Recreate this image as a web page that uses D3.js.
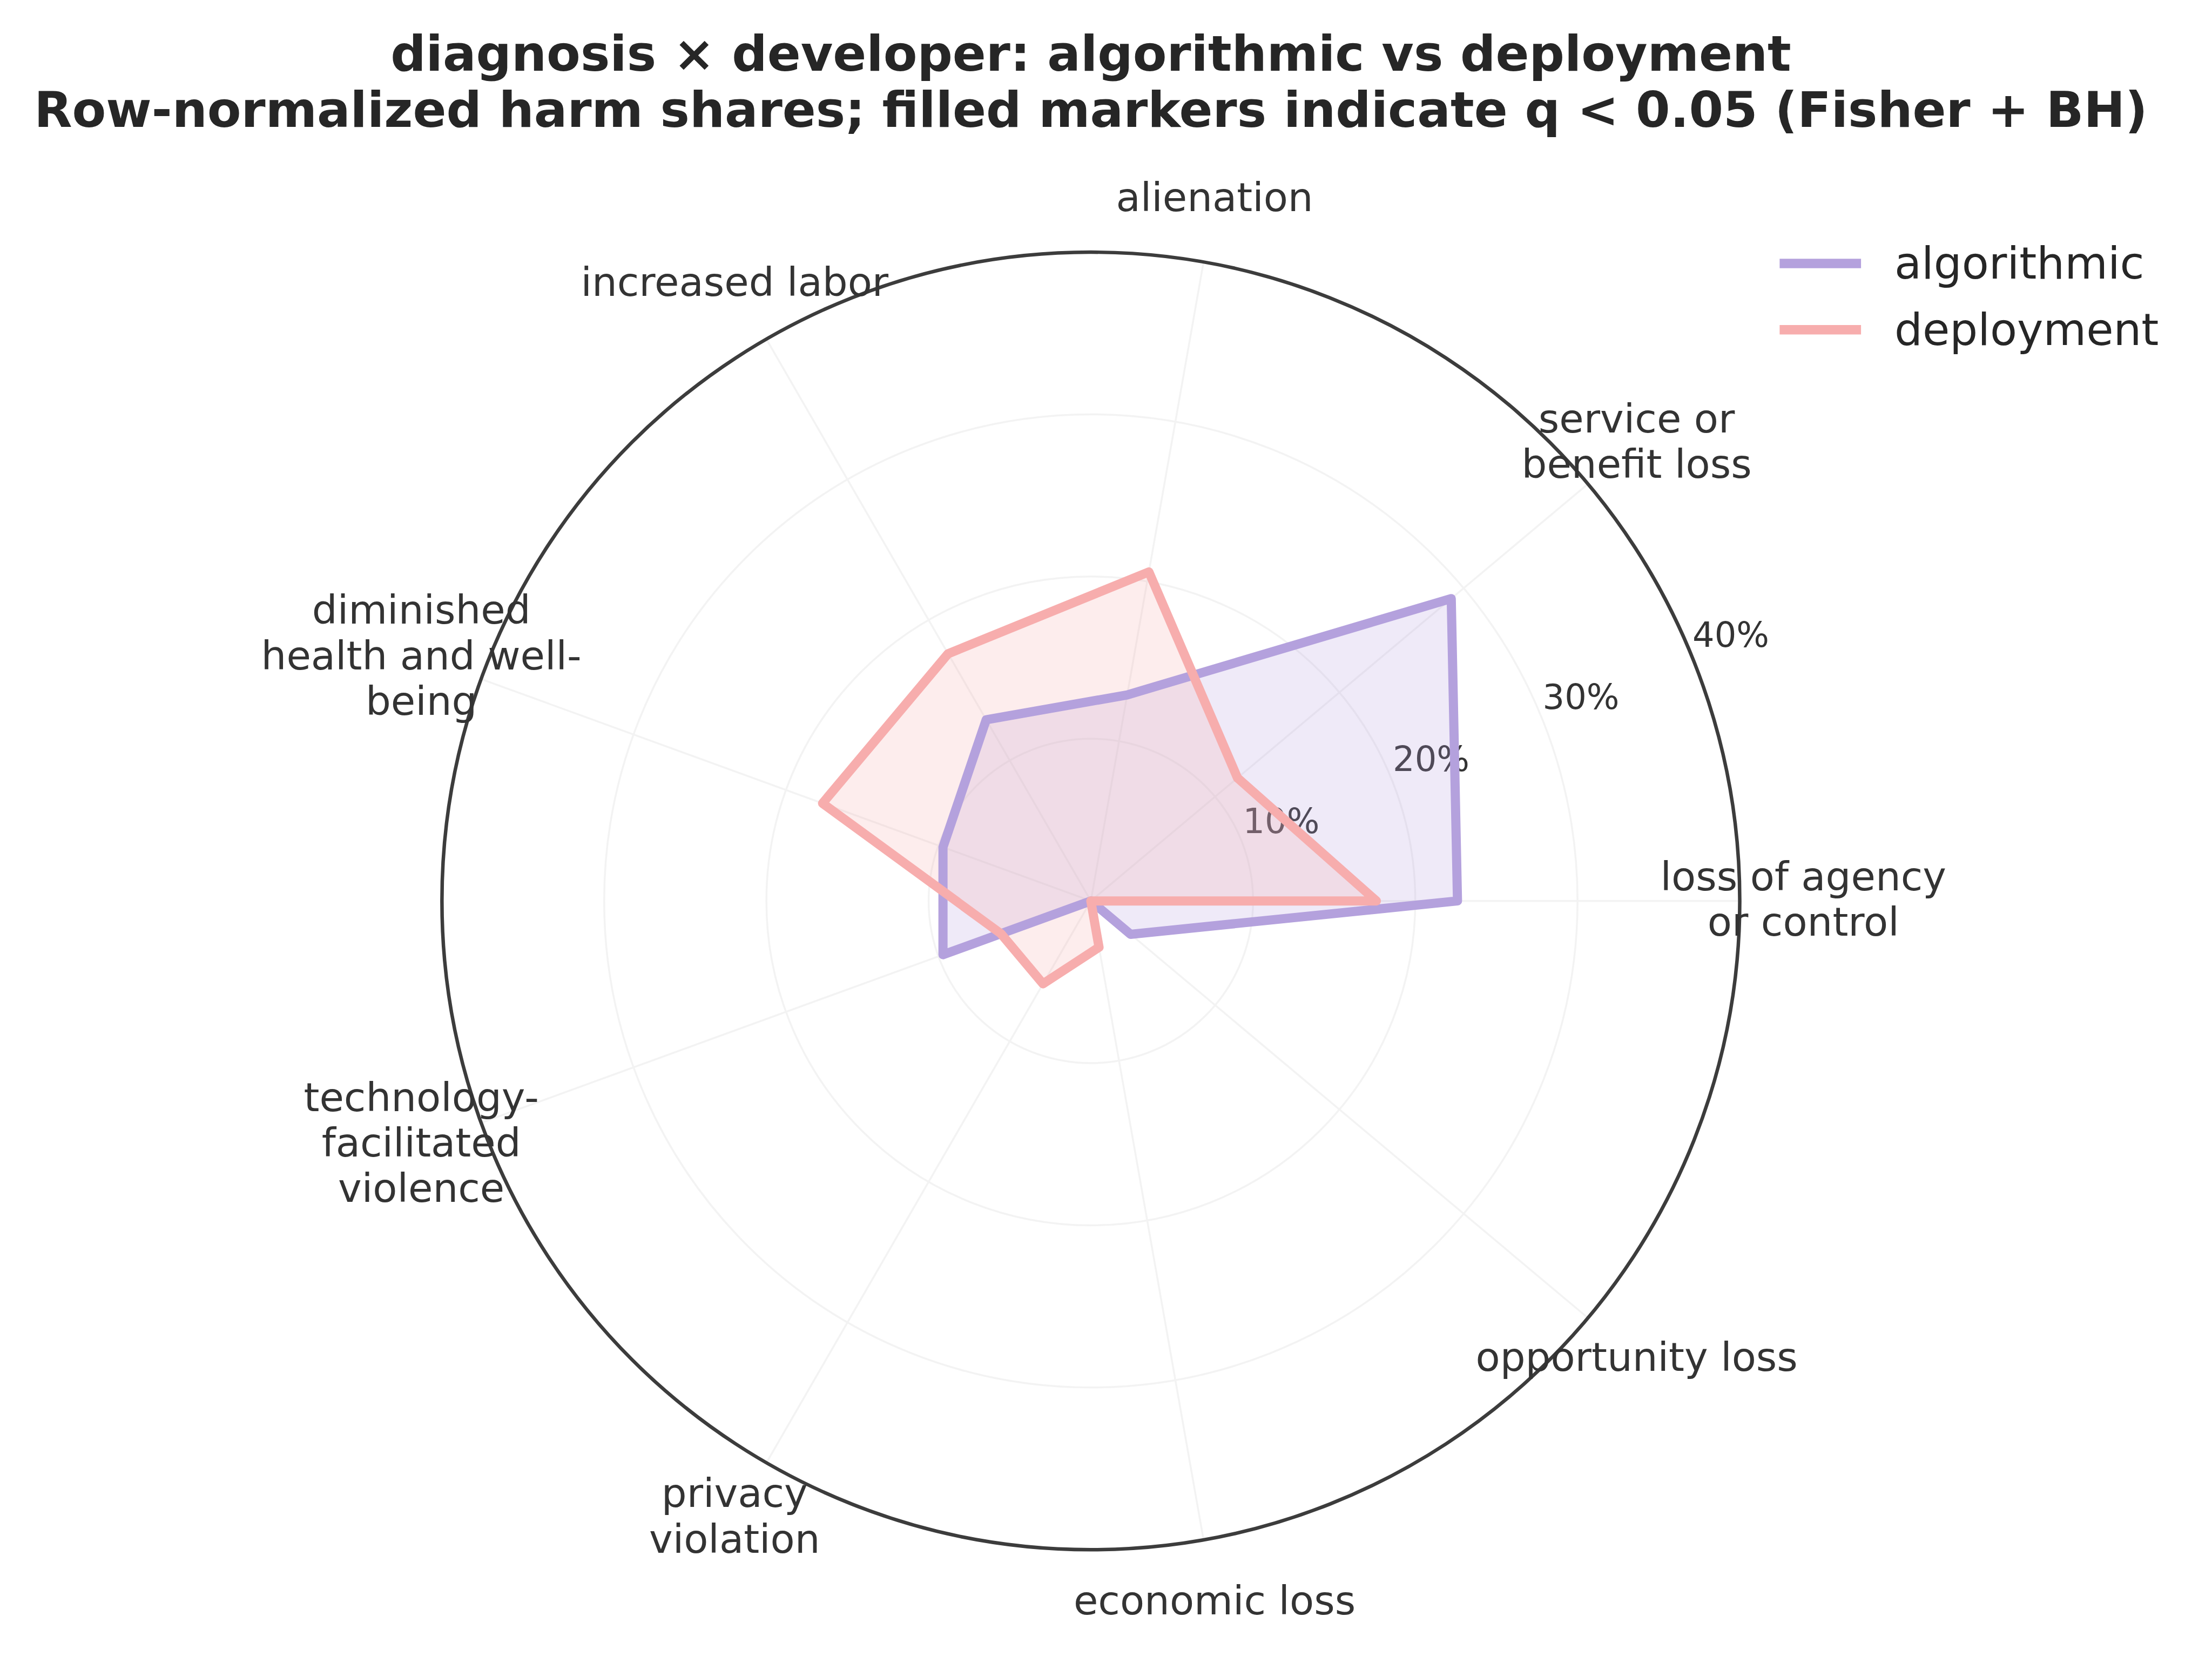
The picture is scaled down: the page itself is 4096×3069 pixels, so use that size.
<!DOCTYPE html>
<html>
<head>
<meta charset="utf-8">
<script src="https://cdn.jsdelivr.net/npm/d3@7"></script>
<style>
  html, body { margin: 0; padding: 0; background: #ffffff; }
  svg { display: block; }
  text { font-family: "DejaVu Sans", sans-serif; }
</style>
</head>
<body>
<svg id="chart" width="4096" height="3069"></svg>
<script>
// ---- data ----
const categories = [
  "loss of agency\nor control",
  "service or\nbenefit loss",
  "alienation",
  "increased labor",
  "diminished\nhealth and well-\nbeing",
  "technology-\nfacilitated\nviolence",
  "privacy\nviolation",
  "economic loss",
  "opportunity loss"
];
const seriesNames = ["algorithmic", "deployment"];
const algorithmic = [22.6, 29.0, 12.9, 12.9, 9.7, 9.7, 0.0, 0.0, 3.2];
const deployment  = [17.6, 11.8, 20.6, 17.6, 17.6, 5.9, 5.9, 2.9, 0.0];
const radialTicks = [10, 20, 30, 40];
const radialTickLabels = ["10%", "20%", "30%", "40%"];
const titleLines = [
  "diagnosis \u00d7 developer: algorithmic vs deployment",
  "Row-normalized harm shares; filled markers indicate q < 0.05 (Fisher + BH)"
];
const colors = ["#b4a1dd", "#f7adad"];

// ---- layout (reference pixel space, scaled to window) ----
const S = 0.998;
const cx = 2024, cy = 1672, R = 1204;

const svg = d3.select("#chart");
const root = svg.append("g").attr("transform", `scale(${S})`);

const r = d3.scaleLinear().domain([0, 40]).range([0, R]);
const theta = d3.scaleLinear().domain([0, categories.length]).range([0, 2 * Math.PI]);
// matplotlib-style angle (CCW from east) -> d3 radial angle (CW from north)
const toD3 = t => Math.PI / 2 - t;

const g = root.append("g").attr("transform", `translate(${cx},${cy})`);

// grid circles
g.append("g").selectAll("circle").data(radialTicks.slice(0, -1)).join("circle")
  .attr("r", d => r(d)).attr("fill", "none")
  .attr("stroke", "#f3f3f3").attr("stroke-width", 3.5);

// spokes
g.append("g").selectAll("line").data(categories).join("line")
  .attr("x1", 0).attr("y1", 0)
  .attr("x2", (d, i) => R * Math.cos(theta(i)))
  .attr("y2", (d, i) => -R * Math.sin(theta(i)))
  .attr("stroke", "#f3f3f3").attr("stroke-width", 3.5);

// radial tick labels (at 22.5 deg)
const rlabA = 22.5 * Math.PI / 180;
g.append("g").selectAll("text").data(radialTicks).join("text")
  .attr("x", d => r(d) * Math.cos(rlabA) + 4)
  .attr("y", d => -r(d) * Math.sin(rlabA) - 11)
  .attr("font-size", 64).attr("fill", "#333333")
  .text((d, i) => radialTickLabels[i]);

// series
const seriesData = [algorithmic, deployment];
const radial = d3.lineRadial()
  .angle((d, i) => toD3(theta(i)))
  .radius(d => r(d))
  .curve(d3.curveLinearClosed);

seriesData.forEach((vals, k) => {
  g.append("path").attr("d", radial(vals))
    .attr("fill", colors[k]).attr("fill-opacity", 0.22).attr("stroke", "none");
});
seriesData.forEach((vals, k) => {
  g.append("path").attr("d", radial(vals))
    .attr("fill", "none").attr("stroke", colors[k])
    .attr("stroke-width", 17).attr("stroke-linejoin", "round");
});

// outer spine
g.append("circle").attr("r", R).attr("fill", "none")
  .attr("stroke", "#3c3c3c").attr("stroke-width", 6.5);

// category labels
const labR = R + 118, fsLab = 74, lineH = 84.5;
categories.forEach((c, i) => {
  const t = theta(i);
  const lx = labR * Math.cos(t), ly = -labR * Math.sin(t);
  const lines = c.split("\n");
  const txt = g.append("text").attr("text-anchor", "middle")
    .attr("font-size", fsLab).attr("fill", "#333333");
  lines.forEach((ln, j) => {
    txt.append("tspan").attr("x", lx)
      .attr("y", ly + 0.3 * fsLab + (j - (lines.length - 1) / 2) * lineH)
      .text(ln);
  });
});

// title
root.append("g").selectAll("text").data(titleLines).join("text")
  .attr("x", cx).attr("y", (d, i) => 131 + i * 104.3)
  .attr("text-anchor", "middle").attr("font-size", 91.6).attr("font-weight", "bold")
  .attr("fill", "#262626").text(d => d);

// legend
const leg = root.append("g");
seriesNames.forEach((nm, k) => {
  const y = 489 + k * 123;
  leg.append("line").attr("x1", 3302).attr("x2", 3453).attr("y1", y).attr("y2", y)
    .attr("stroke", colors[k]).attr("stroke-width", 17.5);
  leg.append("text").attr("x", 3515).attr("y", y + 28.5)
    .attr("font-size", 82).attr("fill", "#262626").text(nm);
});
</script>
</body>
</html>
